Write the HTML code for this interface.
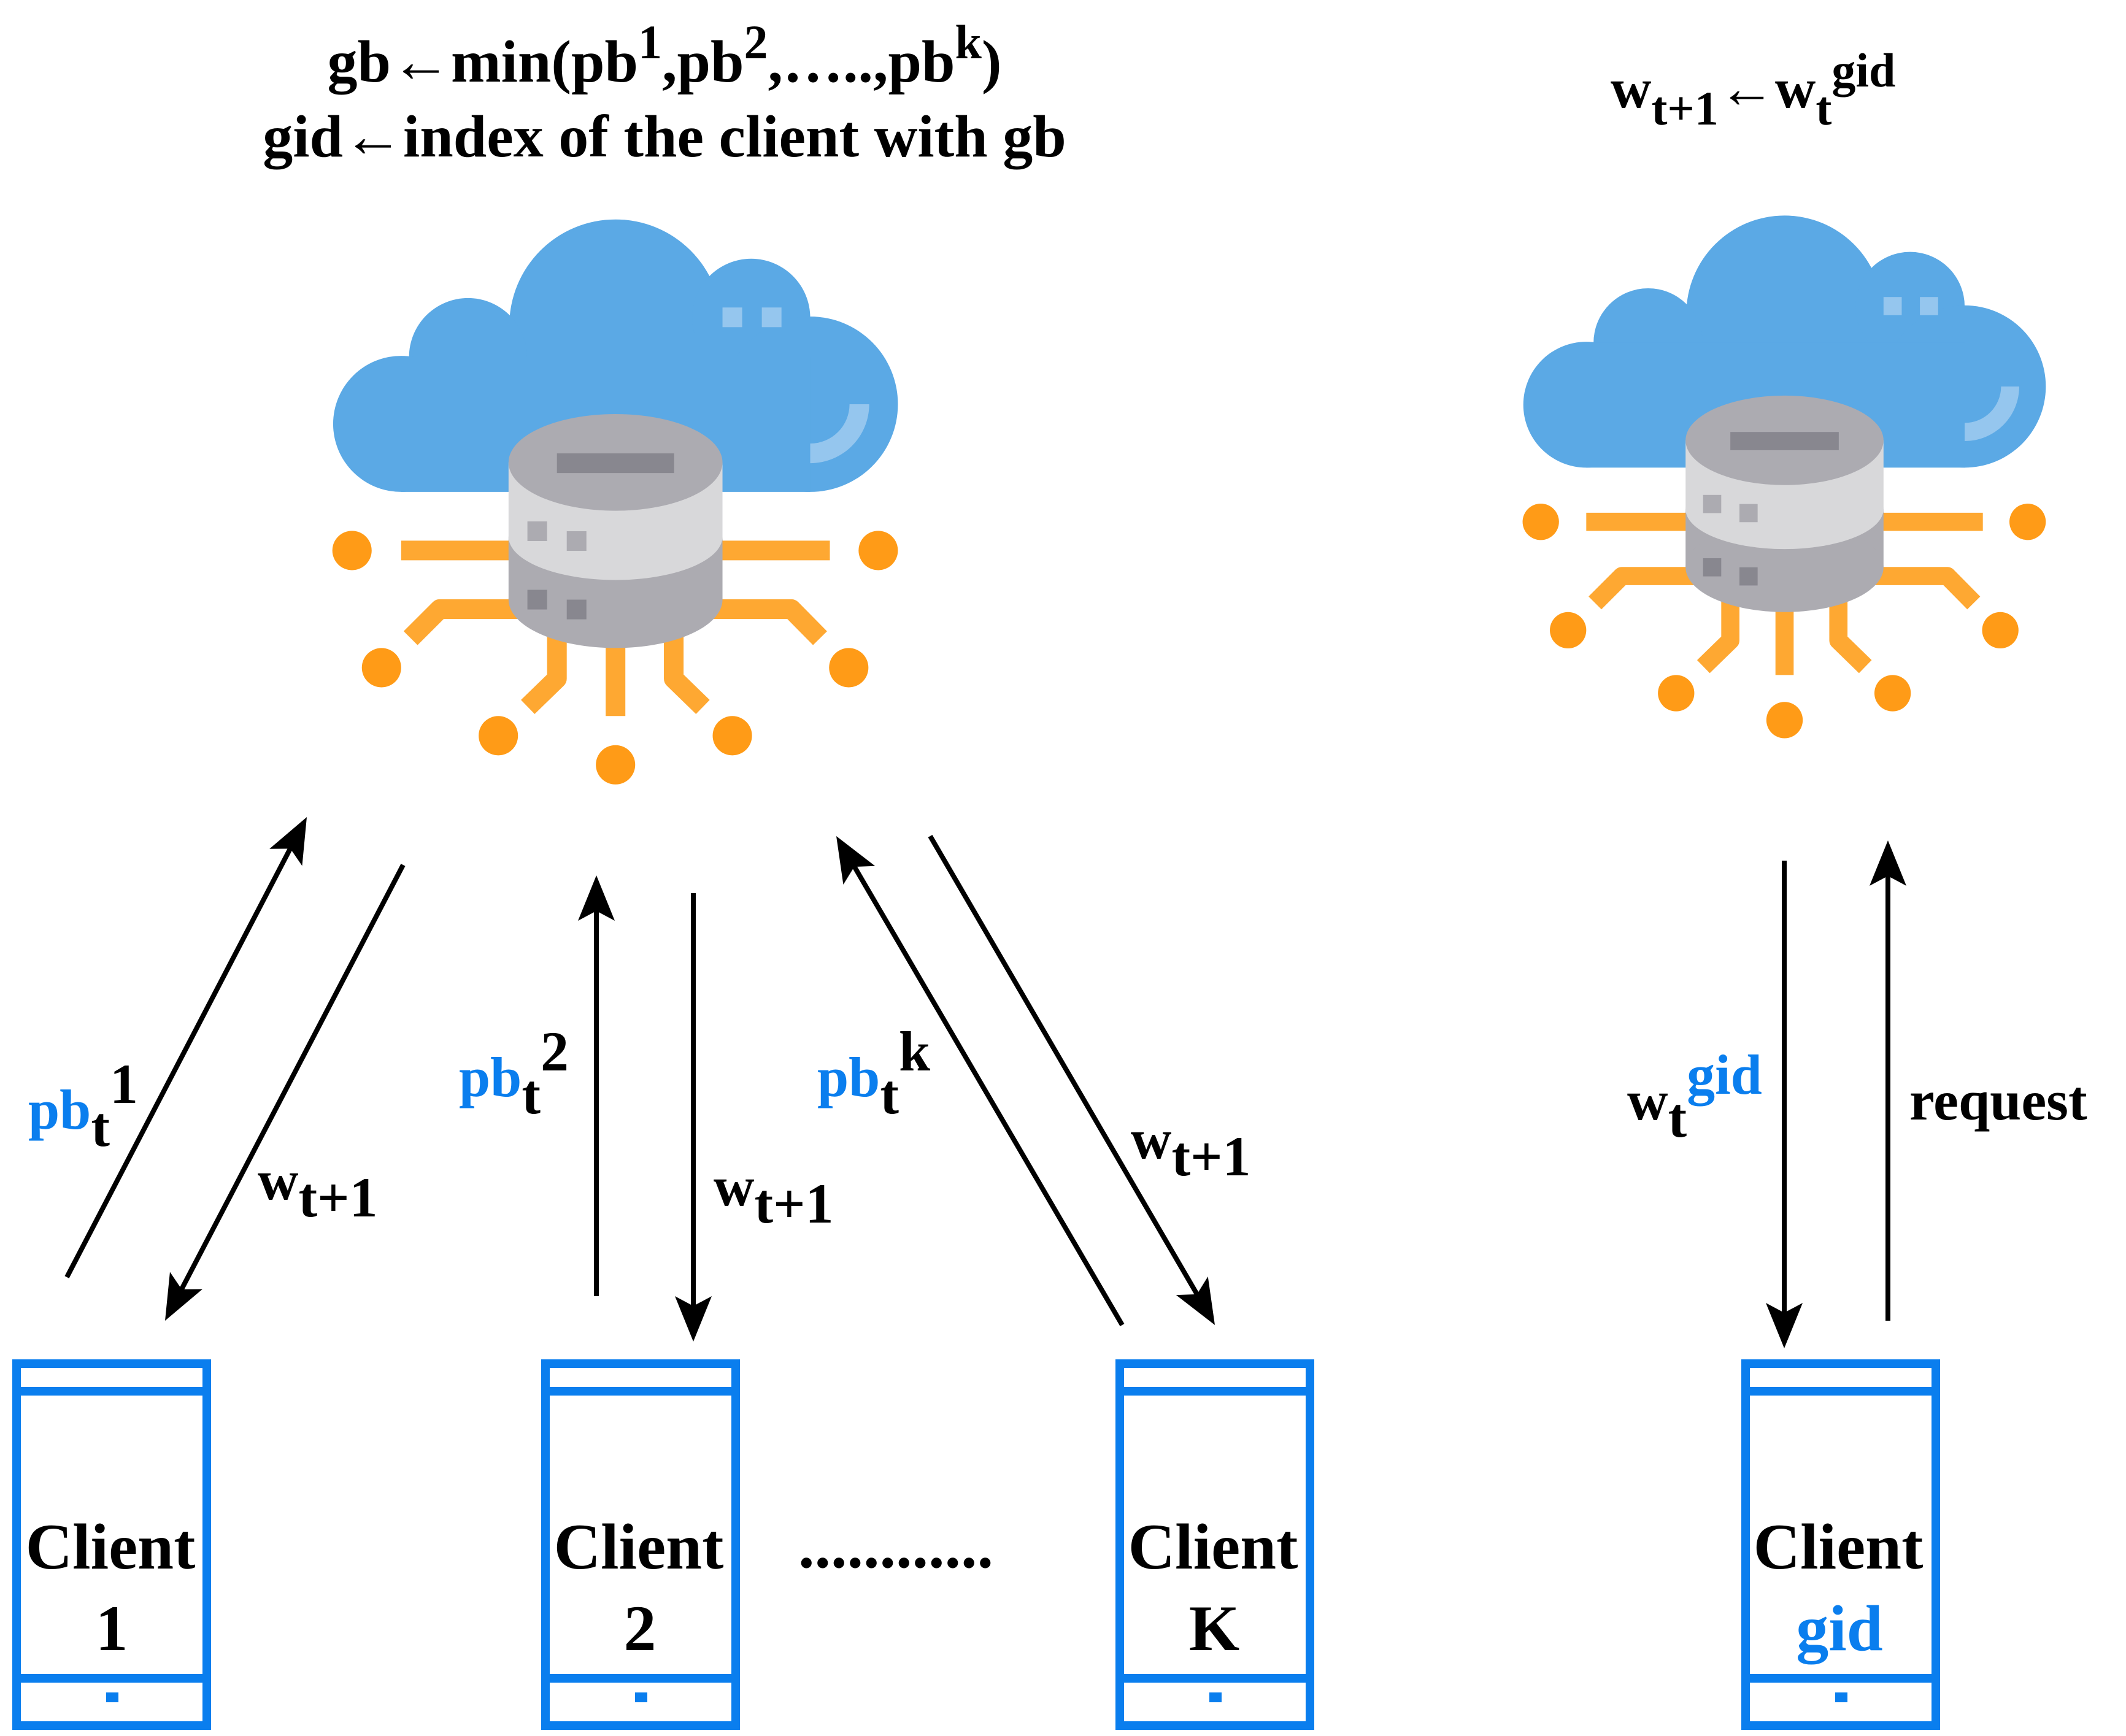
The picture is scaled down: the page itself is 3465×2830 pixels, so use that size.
<!DOCTYPE html>
<html><head><meta charset="utf-8"><style>html,body{margin:0;padding:0;background:#fff}svg{display:block}</style></head>
<body>
<svg width="3465" height="2830" viewBox="0 0 3465 2830" xmlns="http://www.w3.org/2000/svg" font-family="'Liberation Serif',serif" font-weight="bold">
<defs>
<g id="icon">
  <g fill="#5ba9e5">
    <circle cx="785" cy="360" r="270"/>
    <circle cx="410" cy="440" r="150"/>
    <circle cx="240" cy="610" r="173"/>
    <circle cx="1130" cy="340" r="150"/>
    <circle cx="1280" cy="560" r="223"/>
    <rect x="240" y="440" width="1040" height="343"/>
  </g>
  <g fill="#95c6ee">
    <rect x="1057" y="314" width="50" height="50"/>
    <rect x="1157" y="314" width="50" height="50"/>
    <path d="M1380 560 A100 100 0 0 1 1280 660 L1280 710 A150 150 0 0 0 1430 560 Z"/>
  </g>
  <g stroke="#fea832" stroke-width="50" fill="none" stroke-linejoin="round">
    <line x1="240" y1="932" x2="530" y2="932"/>
    <line x1="1040" y1="932" x2="1330" y2="932"/>
    <polyline points="540,1081 338,1081 264,1155"/>
    <polyline points="1030,1081 1232,1081 1305,1155"/>
    <polyline points="636,1120 636,1258 562,1330"/>
    <line x1="785" y1="1150" x2="785" y2="1353"/>
    <polyline points="933,1120 933,1258 1007,1330"/>
  </g>
  <g fill="#ff9b17">
    <circle cx="115" cy="932" r="50"/><circle cx="1453" cy="932" r="50"/>
    <circle cx="190" cy="1230" r="50"/><circle cx="1378" cy="1230" r="50"/>
    <circle cx="487" cy="1403" r="50"/><circle cx="1082" cy="1403" r="50"/>
    <circle cx="785" cy="1477" r="50"/>
  </g>
  <rect x="513" y="897" width="544" height="160" fill="#acabb1"/>
  <ellipse cx="785" cy="1057" rx="272" ry="123" fill="#acabb1"/>
  <rect x="513" y="708" width="544" height="189" fill="#d8d8da"/>
  <ellipse cx="785" cy="897" rx="272" ry="110" fill="#d8d8da"/>
  <ellipse cx="785" cy="708" rx="272" ry="123" fill="#acabb1"/>
  <rect x="636" y="685" width="298" height="50" fill="#88878f"/>
  <rect x="561" y="858" width="50" height="50" fill="#acabb1"/>
  <rect x="661" y="883" width="50" height="50" fill="#acabb1"/>
  <rect x="561" y="1032" width="50" height="50" fill="#88878f"/>
  <rect x="661" y="1057" width="50" height="50" fill="#88878f"/>
</g>
<g id="phone">
  <rect x="7" y="7" width="310" height="590" fill="none" stroke="#0a7eee" stroke-width="14"/>
  <line x1="7" y1="52" x2="317" y2="52" stroke="#0a7eee" stroke-width="14"/>
  <line x1="7" y1="520" x2="317" y2="520" stroke="#0a7eee" stroke-width="14"/>
  <rect x="153" y="543" width="20" height="16" fill="#0a7eee"/>
</g>
</defs>

<use href="#icon" transform="translate(500,300) scale(0.641)"/>
<use href="#icon" transform="translate(2443,298) scale(0.593)"/>

<text x="1083" y="133" text-anchor="middle" font-size="98">gb←min(pb<tspan dy="-38" font-size="78">1</tspan><tspan dy="38">,pb</tspan><tspan dy="-38" font-size="78">2</tspan><tspan dy="38">,…..,pb</tspan><tspan dy="-38" font-size="78">k</tspan><tspan dy="38">)</tspan></text>
<text x="1083" y="255" text-anchor="middle" font-size="98">gid←index of the client with gb</text>
<text x="2625" y="175" font-size="92">w<tspan dy="28" font-size="78">t+1</tspan><tspan dy="-28">←w</tspan><tspan dy="28" font-size="78">t</tspan><tspan dy="-62" font-size="78">gid</tspan></text>

<use href="#phone" transform="translate(20,2216)"/>
<use href="#phone" transform="translate(882,2216)"/>
<use href="#phone" transform="translate(1818,2216)"/>
<use href="#phone" transform="translate(2838,2216)"/>
<g font-size="106" text-anchor="middle">
  <text x="180" y="2557">Client</text><text x="182" y="2690">1</text>
  <text x="1041" y="2557">Client</text><text x="1043" y="2690">2</text>
  <text x="1977" y="2557">Client</text><text x="1979" y="2690">K</text>
  <text x="2996" y="2557">Client</text><text x="2998" y="2690" fill="#0a7eee">gid</text>
  <text x="1460" y="2555">............</text>
</g>

<g stroke="#000" stroke-width="8" fill="none">
  <line x1="109" y1="2082" x2="480" y2="1370"/>
  <line x1="657" y1="1410" x2="289" y2="2115"/>
  <line x1="972" y1="2113" x2="972" y2="1470"/>
  <line x1="1130" y1="1456" x2="1130" y2="2145"/>
  <line x1="1829" y1="2160" x2="1385" y2="1400"/>
  <line x1="1516" y1="1363" x2="1958" y2="2122"/>
  <line x1="2908" y1="1403" x2="2908" y2="2155"/>
  <line x1="3077" y1="2153" x2="3077" y2="1413"/>
</g>
<g fill="#000">
  <polygon points="0,0 -30,74 0,58 30,74" transform="translate(500,1332) rotate(27.5)"/>
  <polygon points="0,0 -30,74 0,58 30,74" transform="translate(269,2153) rotate(207.8)"/>
  <polygon points="0,0 -30,74 0,58 30,74" transform="translate(972,1427)"/>
  <polygon points="0,0 -30,74 0,58 30,74" transform="translate(1130,2187) rotate(180)"/>
  <polygon points="0,0 -30,74 0,58 30,74" transform="translate(1363,1363) rotate(-30.3)"/>
  <polygon points="0,0 -30,74 0,58 30,74" transform="translate(1980,2160) rotate(149.8)"/>
  <polygon points="0,0 -30,74 0,58 30,74" transform="translate(2908,2198) rotate(180)"/>
  <polygon points="0,0 -30,74 0,58 30,74" transform="translate(3077,1370)"/>
</g>

<g font-size="92">
  <text x="46" y="1840"><tspan fill="#0a7eee">pb</tspan><tspan dy="28">t</tspan><tspan dy="-70">1</tspan></text>
  <text x="420" y="1955">w<tspan dy="28">t+1</tspan></text>
  <text x="748" y="1787"><tspan fill="#0a7eee">pb</tspan><tspan dy="28">t</tspan><tspan dy="-70">2</tspan></text>
  <text x="1163" y="1965">w<tspan dy="28">t+1</tspan></text>
  <text x="1332" y="1787"><tspan fill="#0a7eee">pb</tspan><tspan dy="28">t</tspan><tspan dy="-70">k</tspan></text>
  <text x="1843" y="1888">w<tspan dy="28">t+1</tspan></text>
  <text x="2652" y="1825">w<tspan dy="28">t</tspan><tspan dy="-70" fill="#0a7eee">gid</tspan></text>
  <text x="3112" y="1825">request</text>
</g>
</svg>
</body></html>
